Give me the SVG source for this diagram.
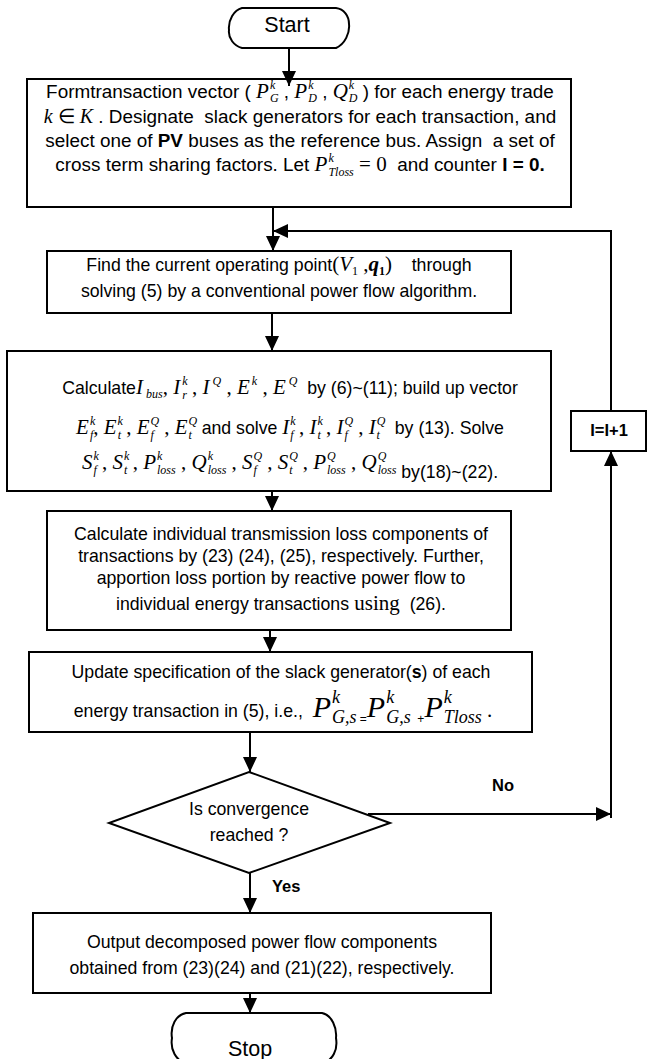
<svg xmlns="http://www.w3.org/2000/svg" width="647" height="1059" viewBox="0 0 647 1059">
<defs>
<style>
.box{fill:#fff;stroke:#000;stroke-width:2}
.t{font-family:"Liberation Sans",Arial,sans-serif;font-size:17.7px;fill:#000}
.t1{font-size:18.9px}
.big1{font-size:21.5px}
.m{font-family:"Liberation Serif","Times New Roman",serif;font-style:italic;font-size:21px}
.m20{font-family:"Liberation Serif","Times New Roman",serif;font-style:italic;font-size:20px}
.mr{font-family:"Liberation Serif","Times New Roman",serif;font-style:normal;font-size:21px}
.mb{font-family:"Liberation Serif","Times New Roman",serif;font-style:italic;font-weight:bold;font-size:21px}
.s{font-family:"Liberation Serif","Times New Roman",serif;font-style:italic;font-size:12px}
.sr{font-family:"Liberation Serif","Times New Roman",serif;font-style:normal;font-size:12px}
.bg{font-family:"Liberation Serif","Times New Roman",serif;font-style:italic;font-size:30px}
.s18{font-family:"Liberation Serif","Times New Roman",serif;font-style:italic;font-size:18px}
.sm{font-family:"Liberation Sans",Arial,sans-serif;font-size:12px}
.b{font-weight:bold}
.lbl{font-family:"Liberation Sans",Arial,sans-serif;font-size:16.5px;font-weight:bold;fill:#000}
.conn line,.conn polyline{stroke:#000;stroke-width:2;fill:none}
</style>
<marker id="arr" markerUnits="userSpaceOnUse" markerWidth="15" markerHeight="14" viewBox="0 0 15 14" refX="15" refY="7" orient="auto">
<path d="M0,0 L15,7 L0,14 Z" fill="#000"/>
</marker>
</defs>
<rect width="647" height="1059" fill="#fff"/>

<g id="start">
<path class="box" d="M242,8 L336,8 C344,9 349,16 349,24 C350,33 345,44 336,48 L242,48 C234,46 228,38 229,30 C228,20 234,10 242,8 Z"/>
<text class="t big1" x="287" y="32" text-anchor="middle">Start</text>
</g>

<g id="init">
<rect class="box" x="27" y="79" width="544" height="128"/>
<text class="t t1" x="300" y="98" text-anchor="middle" xml:space="preserve">Formtransaction vector ( <tspan class="m">P</tspan><tspan class="s" dx="1" dy="-9">k</tspan><tspan class="s" dx="-5.3" dy="13">G</tspan><tspan dy="-4"> , </tspan><tspan class="m">P</tspan><tspan class="s" dx="1" dy="-9">k</tspan><tspan class="s" dx="-5.3" dy="13">D</tspan><tspan dy="-4"> , </tspan><tspan class="m">Q</tspan><tspan class="s" dx="1" dy="-9">k</tspan><tspan class="s" dx="-5.3" dy="13">D</tspan><tspan dy="-4"> ) for each energy trade</tspan></text>
<text class="t t1" x="300" y="123" text-anchor="middle" xml:space="preserve"><tspan class="m20">k</tspan><tspan class="mr" style="font-size:20px"> ∈ </tspan><tspan class="m20">K</tspan> . Designate  slack generators for each transaction, and</text>
<text class="t t1" x="300" y="147" text-anchor="middle" xml:space="preserve">select one of <tspan class="b">PV</tspan> buses as the reference bus. Assign  a set of</text>
<text class="t t1" x="300" y="171" text-anchor="middle" xml:space="preserve">cross term sharing factors. Let <tspan class="m">P</tspan><tspan class="s" dx="1" dy="-9">k</tspan><tspan class="s" dx="-5.3" dy="14">Tloss</tspan><tspan class="mr" dy="-5"> = 0</tspan>  and counter <tspan class="b">I = 0.</tspan></text>
</g>

<g id="powerflow">
<rect class="box" x="47" y="251" width="464" height="62"/>
<text class="t" x="279" y="271" text-anchor="middle" xml:space="preserve">Find the current operating point<tspan class="mr">(</tspan><tspan class="m">V</tspan><tspan class="sr" dy="4">1</tspan><tspan class="mr" dy="-4"> ,</tspan><tspan class="mb">q</tspan><tspan class="sr b" dy="4">1</tspan><tspan class="mr" dy="-4">)</tspan>    through</text>
<text class="t" x="279" y="297" text-anchor="middle">solving (5) by a conventional power flow algorithm.</text>
</g>

<g id="calculate">
<rect class="box" x="7" y="351" width="544" height="140"/>
<text class="t" x="290" y="394" text-anchor="middle" xml:space="preserve">Calculate<tspan class="m">I</tspan><tspan class="s" dy="4"> bus</tspan><tspan class="mr" dy="-4">, </tspan><tspan class="m">I</tspan><tspan class="s" dx="2" dy="-9">k</tspan><tspan class="s" dx="-5.3" dy="14">r</tspan><tspan class="mr" dy="-5"> , </tspan><tspan class="m">I</tspan><tspan class="s" dx="3" dy="-9">Q</tspan><tspan class="mr" dy="9"> , </tspan><tspan class="m">E</tspan><tspan class="s" dx="2" dy="-9">k</tspan><tspan class="mr" dy="9"> , </tspan><tspan class="m">E</tspan><tspan class="s" dx="3" dy="-9">Q</tspan><tspan dy="9">  by (6)~(11); build up vector</tspan></text>
<text class="t" x="290" y="434" text-anchor="middle" xml:space="preserve"><tspan class="m">E</tspan><tspan class="s" dx="1" dy="-9">k</tspan><tspan class="s" dx="-5.3" dy="14">f</tspan><tspan class="mr" dy="-5">, </tspan><tspan class="m">E</tspan><tspan class="s" dx="1" dy="-9">k</tspan><tspan class="s" dx="-5.3" dy="14">t</tspan><tspan class="mr" dy="-5"> , </tspan><tspan class="m">E</tspan><tspan class="s" dx="1" dy="-9">Q</tspan><tspan class="s" dx="-8.7" dy="14">f</tspan><tspan class="mr" dx="5" dy="-5"> , </tspan><tspan class="m">E</tspan><tspan class="s" dx="1" dy="-9">Q</tspan><tspan class="s" dx="-8.7" dy="14">t</tspan><tspan dx="5" dy="-5"> and solve </tspan><tspan class="m">I</tspan><tspan class="s" dx="1" dy="-9">k</tspan><tspan class="s" dx="-5.3" dy="14">f</tspan><tspan class="mr" dy="-5"> , </tspan><tspan class="m">I</tspan><tspan class="s" dx="1" dy="-9">k</tspan><tspan class="s" dx="-5.3" dy="14">t</tspan><tspan class="mr" dy="-5"> , </tspan><tspan class="m">I</tspan><tspan class="s" dx="1" dy="-9">Q</tspan><tspan class="s" dx="-8.7" dy="14">f</tspan><tspan class="mr" dx="5" dy="-5"> , </tspan><tspan class="m">I</tspan><tspan class="s" dx="1" dy="-9">Q</tspan><tspan class="s" dx="-8.7" dy="14">t</tspan><tspan dx="5" dy="-5">  by (13). Solve</tspan></text>
<text class="t" x="290" y="469" text-anchor="middle" xml:space="preserve"><tspan class="m">S</tspan><tspan class="s" dx="1" dy="-9">k</tspan><tspan class="s" dx="-5.3" dy="14">f</tspan><tspan class="mr" dy="-5"> , </tspan><tspan class="m">S</tspan><tspan class="s" dx="1" dy="-9">k</tspan><tspan class="s" dx="-5.3" dy="14">t</tspan><tspan class="mr" dy="-5"> , </tspan><tspan class="m">P</tspan><tspan class="s" dx="1" dy="-9">k</tspan><tspan class="s" dx="-5.3" dy="14">loss</tspan><tspan class="mr" dy="-5"> , </tspan><tspan class="m">Q</tspan><tspan class="s" dx="1" dy="-9">k</tspan><tspan class="s" dx="-5.3" dy="14">loss</tspan><tspan class="mr" dy="-5"> , </tspan><tspan class="m">S</tspan><tspan class="s" dx="1" dy="-9">Q</tspan><tspan class="s" dx="-8.7" dy="14">f</tspan><tspan class="mr" dx="5" dy="-5"> , </tspan><tspan class="m">S</tspan><tspan class="s" dx="1" dy="-9">Q</tspan><tspan class="s" dx="-8.7" dy="14">t</tspan><tspan class="mr" dx="5" dy="-5"> , </tspan><tspan class="m">P</tspan><tspan class="s" dx="1" dy="-9">Q</tspan><tspan class="s" dx="-8.7" dy="14">loss</tspan><tspan class="mr" dy="-5"> , </tspan><tspan class="m">Q</tspan><tspan class="s" dx="1" dy="-9">Q</tspan><tspan class="s" dx="-8.7" dy="14">loss</tspan><tspan dy="4"> by(18)~(22).</tspan></text>
</g>

<g id="losses">
<rect class="box" x="47" y="511" width="464" height="119"/>
<text class="t" x="281" y="540" text-anchor="middle">Calculate individual transmission loss components of</text>
<text class="t" x="281" y="562" text-anchor="middle">transactions by (23) (24), (25), respectively. Further,</text>
<text class="t" x="281" y="584" text-anchor="middle">apportion loss portion by reactive power flow to</text>
<text class="t" x="281" y="610" text-anchor="middle" xml:space="preserve">individual energy transactions<tspan class="mr"> using</tspan>  (26).</text>
</g>

<g id="update">
<rect class="box" x="29" y="652" width="503" height="80"/>
<text class="t" x="281" y="678" text-anchor="middle" xml:space="preserve">Update specification of the slack generator(<tspan class="b">s</tspan>) of each</text>
<text class="t" x="283" y="717" text-anchor="middle" xml:space="preserve">energy transaction in (5), i.e.,  <tspan class="bg">P</tspan><tspan class="s18" dx="1" dy="-14">k</tspan><tspan class="s18" dx="-8" dy="20">G,s</tspan><tspan class="sm"> =</tspan><tspan class="bg" dy="-6">P</tspan><tspan class="s18" dx="1" dy="-14">k</tspan><tspan class="s18" dx="-8" dy="20">G,s</tspan><tspan class="sm">  +</tspan><tspan class="bg" dy="-6">P</tspan><tspan class="s18" dx="1" dy="-14">k</tspan><tspan class="s18" dx="-8" dy="20">Tloss</tspan><tspan class="mr" dy="-6"> .</tspan></text>
</g>

<g id="decision">
<polygon class="box" points="249,772 390,823 249,873 109,823"/>
<text class="t" x="249" y="815" text-anchor="middle">Is convergence</text>
<text class="t" x="249" y="841" text-anchor="middle">reached ?</text>
</g>

<g id="increment">
<rect class="box" x="571" y="411" width="75" height="40"/>
<text class="lbl" x="609" y="436" text-anchor="middle">I=I+1</text>
</g>

<g id="output">
<rect class="box" x="33" y="913" width="458" height="80"/>
<text class="t" x="262" y="948" text-anchor="middle">Output decomposed power flow components</text>
<text class="t" x="262" y="974" text-anchor="middle">obtained from (23)(24) and (21)(22), respectively.</text>
</g>

<g id="stop">
<path class="box" d="M186,1013 L322,1013 C332,1015 337,1028 336,1038 C338,1050 333,1060 322,1064 L186,1064 C176,1060 170,1050 172,1038 C170,1026 176,1015 186,1013 Z"/>
<text class="t big1" x="250" y="1056" text-anchor="middle">Stop</text>
</g>

<g id="connectors" class="conn">
<line x1="289" y1="48" x2="289" y2="86" marker-end="url(#arr)"/>
<line x1="273" y1="207" x2="273" y2="251" marker-end="url(#arr)"/>
<line x1="272" y1="313" x2="272" y2="351" marker-end="url(#arr)"/>
<line x1="272" y1="491" x2="272" y2="511" marker-end="url(#arr)"/>
<line x1="270" y1="630" x2="270" y2="652" marker-end="url(#arr)"/>
<line x1="250" y1="732" x2="250" y2="772" marker-end="url(#arr)"/>
<line x1="250" y1="873" x2="250" y2="913" marker-end="url(#arr)"/>
<line x1="250" y1="993" x2="250" y2="1013" marker-end="url(#arr)"/>
<line x1="368" y1="814" x2="611" y2="814" marker-end="url(#arr)"/>
<line x1="611" y1="818" x2="611" y2="451" marker-end="url(#arr)"/>
<polyline points="611,411 611,231 273,231" marker-end="url(#arr)"/>
<text class="lbl" x="503" y="791" text-anchor="middle">No</text>
<text class="lbl" x="272" y="892">Yes</text>
</g>
</svg>
